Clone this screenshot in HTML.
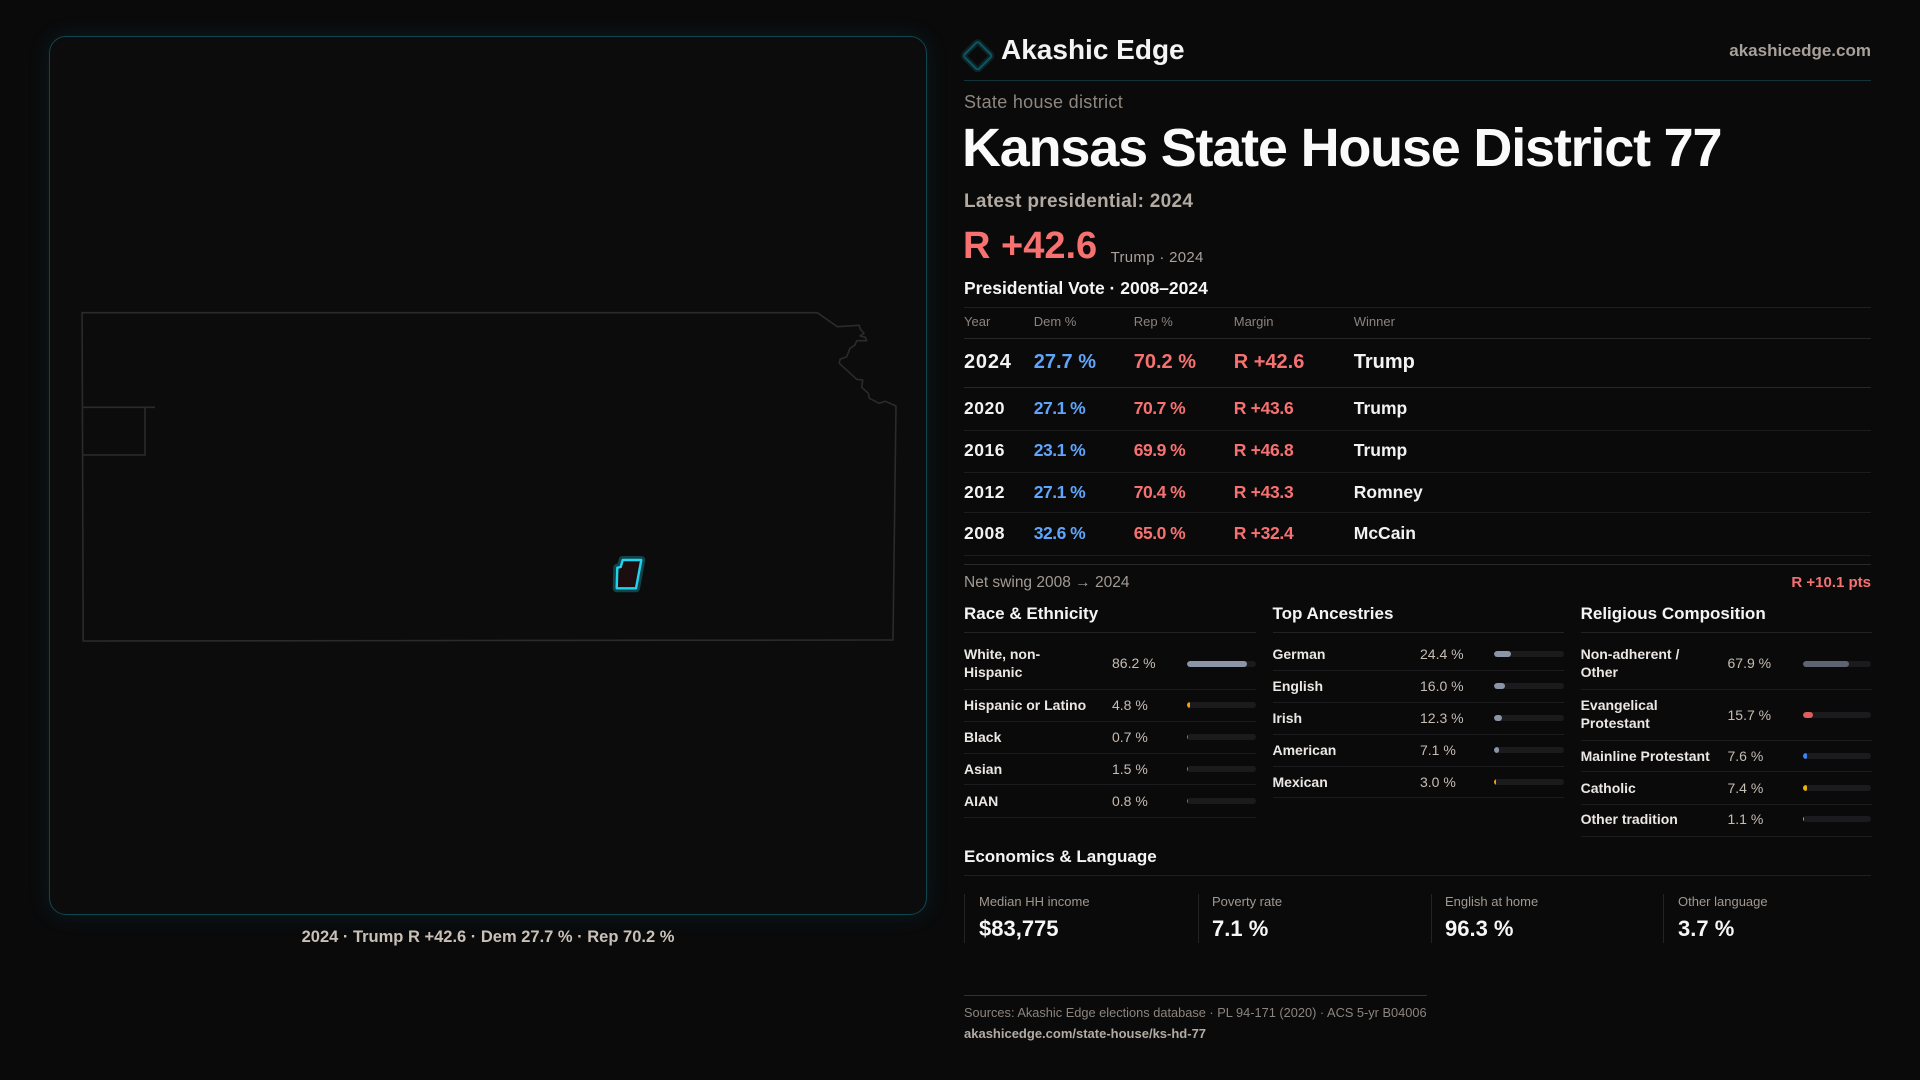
<!DOCTYPE html>
<html>
<head>
<meta charset="utf-8">
<style>
*{margin:0;padding:0;box-sizing:border-box}
html,body{width:1920px;height:1080px;background:#0a0a0b;overflow:hidden}
body{position:relative;font-family:"Liberation Sans",sans-serif;color:#f0f0f0}
.t{position:absolute;white-space:nowrap;line-height:20px}
.b{font-weight:bold}
.ln{position:absolute;height:1px}
.mapbox{position:absolute;left:49px;top:36px;width:878px;height:879px;border:1px solid #0f4651;border-radius:17px;background:#0c0c0d;box-shadow:0 0 22px rgba(16,110,128,0.18)}
.hd{font-size:13px;color:#8c837c;line-height:16px;top:314px}
.r0{font-size:20px;font-weight:bold;line-height:24px;top:350px}
.rr{font-size:17.5px;font-weight:bold;line-height:20px}
.blue{color:#60a5fa}.red{color:#f87171}.wh{color:#f2f2f2}
.lab{font-size:14px;font-weight:bold;color:#ebe7e3;line-height:20px}
.lab2{font-size:14px;font-weight:bold;color:#ebe7e3;line-height:18.7px;white-space:nowrap;position:absolute}
.val{font-size:14px;color:#c7bdb3;line-height:20px}
.trk{position:absolute;height:6px;border-radius:3px;background:#1b1b1d;overflow:hidden}
.fil{position:absolute;left:0;top:0;height:6px;border-radius:3px}
.sec{font-size:17px;font-weight:bold;color:#f4f4f4;top:604px}
.sl{font-size:13px;color:#a1988f;line-height:16px;top:894px}
.sv{font-size:22px;font-weight:bold;color:#f6f6f6;line-height:26px;top:916px}
.sb{position:absolute;top:894px;width:1px;height:49px;background:#232325}
</style>
</head>
<body>

<div class="mapbox"></div>
<svg style="position:absolute;left:0;top:0" width="1920" height="1080" viewBox="0 0 1920 1080">
  <polygon points="82.1,312.7 817.3,312.7 837.3,326.7 859.3,325.3 860,328.7 864,333.3 860,336 865.3,337.3 866.7,340.7 856.7,340.7 855,345 850,348.3 846.7,356.7 840,359.3 839.3,363.3 856.7,379.3 862.7,380 861.7,387.3 868.3,393.3 869.3,398.3 879.3,403.3 885.3,401.3 896,406 893,640 83.2,641" fill="none" stroke="#2b2b2d" stroke-width="1.6" stroke-linejoin="round"/>
  <polyline points="82.5,407.3 155,407.3" fill="none" stroke="#2b2b2d" stroke-width="1.6"/>
  <polyline points="145,407.3 145,455 82.5,455" fill="none" stroke="#2b2b2d" stroke-width="1.6"/>
  <polygon points="622.7,560 641.3,560 636,588.3 616.7,588.3 617.3,567.7 620.7,567" fill="none" stroke="rgba(34,211,238,0.28)" stroke-width="8" stroke-linejoin="round"/>
  <polygon points="622.7,560 641.3,560 636,588.3 616.7,588.3 617.3,567.7 620.7,567" fill="#1c0e10" stroke="#22d3ee" stroke-width="2.4" stroke-linejoin="round"/>
  <rect x="967.5" y="45.5" width="20.5" height="20.5" rx="2.5" transform="rotate(45 977.7 55.7)" fill="none" stroke="rgba(20,110,125,0.25)" stroke-width="6"/>
  <rect x="967.5" y="45.5" width="20.5" height="20.5" rx="2.5" transform="rotate(45 977.7 55.7)" fill="none" stroke="#0f5560" stroke-width="2"/>
</svg>

<div class="t b" style="left:49px;width:878px;text-align:center;top:927px;font-size:16.5px;color:#c9c0b7">2024 · Trump R +42.6 · Dem 27.7 % · Rep 70.2 %</div>

<!-- header -->
<div class="t b" style="left:1001px;top:35px;font-size:28px;line-height:30px;color:#f4f4f5">Akashic Edge</div>
<div class="t b" style="right:49px;top:40.5px;font-size:17px;color:#a8a099">akashicedge.com</div>
<div class="ln" style="left:964px;top:80px;width:907px;background:#12333a"></div>

<div class="t" style="left:964px;top:91.5px;font-size:18px;color:#8f8780;letter-spacing:0.3px">State house district</div>
<div class="t b" style="left:962px;top:118px;font-size:54px;line-height:60px;letter-spacing:-1.2px;color:#fafafa">Kansas State House District 77</div>
<div class="t b" style="left:964px;top:190.7px;font-size:19px;line-height:22px;color:#b3aaa2;letter-spacing:0.3px">Latest presidential: 2024</div>
<div class="t b red" style="left:963px;top:225.5px;font-size:38px;line-height:40px">R +42.6</div>
<div class="t" style="left:1110.6px;top:248.8px;font-size:15px;line-height:18px;color:#aaa19a;letter-spacing:0.3px">Trump · 2024</div>
<div class="t b" style="left:964px;top:278px;font-size:17.5px;color:#f6f6f6">Presidential Vote · 2008–2024</div>

<!-- table -->
<div class="ln" style="left:964px;top:307px;width:907px;background:#1f1f21"></div>
<div class="t hd" style="left:964px">Year</div>
<div class="t hd" style="left:1033.75px">Dem %</div>
<div class="t hd" style="left:1133.75px">Rep %</div>
<div class="t hd" style="left:1233.75px">Margin</div>
<div class="t hd" style="left:1353.75px">Winner</div>
<div class="ln" style="left:964px;top:338px;width:907px;background:#262628"></div>

<div class="t r0 wh" style="left:964px;letter-spacing:0.8px">2024</div>
<div class="t r0 blue" style="left:1033.75px">27.7 %</div>
<div class="t r0 red" style="left:1133.75px">70.2 %</div>
<div class="t r0 red" style="left:1233.75px">R +42.6</div>
<div class="t r0 wh" style="left:1353.75px">Trump</div>
<div class="ln" style="left:964px;top:387px;width:907px;background:#28282a"></div>

<div class="t rr wh" style="left:964px;top:398.3px;letter-spacing:0.5px">2020</div>
<div class="t rr blue" style="left:1033.75px;top:398.3px;letter-spacing:-0.5px">27.1 %</div>
<div class="t rr red" style="left:1133.75px;top:398.3px;letter-spacing:-0.5px">70.7 %</div>
<div class="t rr red" style="left:1233.75px;top:398.3px;letter-spacing:-0.3px">R +43.6</div>
<div class="t rr wh" style="left:1353.75px;top:398.3px">Trump</div>
<div class="ln" style="left:964px;top:430px;width:907px;background:#1c1c1e"></div>

<div class="t rr wh" style="left:964px;top:440px;letter-spacing:0.5px">2016</div>
<div class="t rr blue" style="left:1033.75px;top:440px;letter-spacing:-0.5px">23.1 %</div>
<div class="t rr red" style="left:1133.75px;top:440px;letter-spacing:-0.5px">69.9 %</div>
<div class="t rr red" style="left:1233.75px;top:440px;letter-spacing:-0.3px">R +46.8</div>
<div class="t rr wh" style="left:1353.75px;top:440px">Trump</div>
<div class="ln" style="left:964px;top:471.7px;width:907px;background:#1c1c1e"></div>

<div class="t rr wh" style="left:964px;top:481.7px;letter-spacing:0.5px">2012</div>
<div class="t rr blue" style="left:1033.75px;top:481.7px;letter-spacing:-0.5px">27.1 %</div>
<div class="t rr red" style="left:1133.75px;top:481.7px;letter-spacing:-0.5px">70.4 %</div>
<div class="t rr red" style="left:1233.75px;top:481.7px;letter-spacing:-0.3px">R +43.3</div>
<div class="t rr wh" style="left:1353.75px;top:481.7px">Romney</div>
<div class="ln" style="left:964px;top:512.3px;width:907px;background:#1c1c1e"></div>

<div class="t rr wh" style="left:964px;top:523.3px;letter-spacing:0.5px">2008</div>
<div class="t rr blue" style="left:1033.75px;top:523.3px;letter-spacing:-0.5px">32.6 %</div>
<div class="t rr red" style="left:1133.75px;top:523.3px;letter-spacing:-0.5px">65.0 %</div>
<div class="t rr red" style="left:1233.75px;top:523.3px;letter-spacing:-0.3px">R +32.4</div>
<div class="t rr wh" style="left:1353.75px;top:523.3px">McCain</div>
<div class="ln" style="left:964px;top:555.3px;width:907px;background:#1c1c1e"></div>
<div class="ln" style="left:964px;top:564.3px;width:907px;background:#29292b"></div>

<div class="t" style="left:964px;top:572.7px;font-size:15.5px;color:#a39a93">Net swing 2008 → 2024</div>
<div class="t b red" style="right:49px;top:572.7px;font-size:15px">R +10.1 pts</div>

<!-- sections -->
<div class="t sec" style="left:964px">Race &amp; Ethnicity</div>
<div class="t sec" style="left:1272.5px">Top Ancestries</div>
<div class="t sec" style="left:1580.6px">Religious Composition</div>
<div class="ln" style="left:964px;top:632px;width:292px;background:#222224"></div>
<div class="ln" style="left:1272.5px;top:632px;width:291px;background:#222224"></div>
<div class="ln" style="left:1580.6px;top:632px;width:291px;background:#222224"></div>

<!-- Race -->
<div class="lab2" style="left:964px;top:644.6px">White, non-<br>Hispanic</div>
<div class="t val" style="left:1112px;top:652.7px">86.2 %</div>
<div class="trk" style="left:1187px;top:660.7px;width:69px"><div class="fil" style="width:59.5px;background:#8b95a7"></div></div>
<div class="ln" style="left:964px;top:689.3px;width:292px;background:#1c1c1e"></div>

<div class="t lab" style="left:964px;top:695px">Hispanic or Latino</div>
<div class="t val" style="left:1112px;top:695px">4.8 %</div>
<div class="trk" style="left:1187px;top:702px;width:69px"><div class="fil" style="width:3.3px;background:#f59e0b"></div></div>
<div class="ln" style="left:964px;top:721px;width:292px;background:#1c1c1e"></div>

<div class="t lab" style="left:964px;top:726.7px">Black</div>
<div class="t val" style="left:1112px;top:726.7px">0.7 %</div>
<div class="trk" style="left:1187px;top:733.7px;width:69px"><div class="fil" style="width:0.5px;background:#8b5cf6"></div></div>
<div class="ln" style="left:964px;top:753.3px;width:292px;background:#1c1c1e"></div>

<div class="t lab" style="left:964px;top:759px">Asian</div>
<div class="t val" style="left:1112px;top:759px">1.5 %</div>
<div class="trk" style="left:1187px;top:766px;width:69px"><div class="fil" style="width:1.2px;background:#10b981"></div></div>
<div class="ln" style="left:964px;top:784.3px;width:292px;background:#1c1c1e"></div>

<div class="t lab" style="left:964px;top:790.7px">AIAN</div>
<div class="t val" style="left:1112px;top:790.7px">0.8 %</div>
<div class="trk" style="left:1187px;top:797.7px;width:69px"><div class="fil" style="width:1px;background:#c2620c"></div></div>
<div class="ln" style="left:964px;top:817.3px;width:292px;background:#1c1c1e"></div>

<!-- Ancestries -->
<div class="t lab" style="left:1272.5px;top:644px">German</div>
<div class="t val" style="left:1420px;top:644px">24.4 %</div>
<div class="trk" style="left:1493.75px;top:651px;width:70px"><div class="fil" style="width:17px;background:#8b95a7"></div></div>
<div class="ln" style="left:1272.5px;top:670.3px;width:291px;background:#1c1c1e"></div>

<div class="t lab" style="left:1272.5px;top:676px">English</div>
<div class="t val" style="left:1420px;top:676px">16.0 %</div>
<div class="trk" style="left:1493.75px;top:683px;width:70px"><div class="fil" style="width:11.2px;background:#8b95a7"></div></div>
<div class="ln" style="left:1272.5px;top:702.3px;width:291px;background:#1c1c1e"></div>

<div class="t lab" style="left:1272.5px;top:707.7px">Irish</div>
<div class="t val" style="left:1420px;top:707.7px">12.3 %</div>
<div class="trk" style="left:1493.75px;top:714.7px;width:70px"><div class="fil" style="width:8.6px;background:#8b95a7"></div></div>
<div class="ln" style="left:1272.5px;top:734.3px;width:291px;background:#1c1c1e"></div>

<div class="t lab" style="left:1272.5px;top:740px">American</div>
<div class="t val" style="left:1420px;top:740px">7.1 %</div>
<div class="trk" style="left:1493.75px;top:747px;width:70px"><div class="fil" style="width:5px;background:#8b95a7"></div></div>
<div class="ln" style="left:1272.5px;top:766px;width:291px;background:#1c1c1e"></div>

<div class="t lab" style="left:1272.5px;top:771.7px">Mexican</div>
<div class="t val" style="left:1420px;top:771.7px">3.0 %</div>
<div class="trk" style="left:1493.75px;top:778.7px;width:70px"><div class="fil" style="width:2.1px;background:#f59e0b"></div></div>
<div class="ln" style="left:1272.5px;top:797.3px;width:291px;background:#1c1c1e"></div>

<!-- Religion -->
<div class="lab2" style="left:1580.6px;top:644.6px">Non-adherent /<br>Other</div>
<div class="t val" style="left:1727.5px;top:652.7px">67.9 %</div>
<div class="trk" style="left:1802.5px;top:660.7px;width:68.5px"><div class="fil" style="width:46.5px;background:#5f6472"></div></div>
<div class="ln" style="left:1580.6px;top:689.3px;width:291px;background:#1c1c1e"></div>

<div class="lab2" style="left:1580.6px;top:695.6px">Evangelical<br>Protestant</div>
<div class="t val" style="left:1727.5px;top:705px">15.7 %</div>
<div class="trk" style="left:1802.5px;top:712px;width:68.5px"><div class="fil" style="width:10.8px;background:#e05d5d"></div></div>
<div class="ln" style="left:1580.6px;top:740px;width:291px;background:#1c1c1e"></div>

<div class="t lab" style="left:1580.6px;top:745.7px">Mainline Protestant</div>
<div class="t val" style="left:1727.5px;top:745.7px">7.6 %</div>
<div class="trk" style="left:1802.5px;top:752.7px;width:68.5px"><div class="fil" style="width:4.5px;background:#3b82f6"></div></div>
<div class="ln" style="left:1580.6px;top:771px;width:291px;background:#1c1c1e"></div>

<div class="t lab" style="left:1580.6px;top:777.7px">Catholic</div>
<div class="t val" style="left:1727.5px;top:777.7px">7.4 %</div>
<div class="trk" style="left:1802.5px;top:784.7px;width:68.5px"><div class="fil" style="width:4.5px;background:#eab308"></div></div>
<div class="ln" style="left:1580.6px;top:804px;width:291px;background:#1c1c1e"></div>

<div class="t lab" style="left:1580.6px;top:809px">Other tradition</div>
<div class="t val" style="left:1727.5px;top:809px">1.1 %</div>
<div class="trk" style="left:1802.5px;top:816px;width:68.5px"><div class="fil" style="width:1px;background:#9ca3af"></div></div>
<div class="ln" style="left:1580.6px;top:835.7px;width:291px;background:#1c1c1e"></div>

<!-- Economics -->
<div class="t b" style="left:964px;top:846.7px;font-size:17px;color:#f4f4f4">Economics &amp; Language</div>
<div class="ln" style="left:964px;top:875px;width:907px;background:#1f1f21"></div>

<div class="sb" style="left:964px"></div>
<div class="t sl" style="left:979px">Median HH income</div>
<div class="t sv" style="left:979px">$83,775</div>

<div class="sb" style="left:1197.5px"></div>
<div class="t sl" style="left:1212px">Poverty rate</div>
<div class="t sv" style="left:1212px">7.1 %</div>

<div class="sb" style="left:1430.6px"></div>
<div class="t sl" style="left:1445px">English at home</div>
<div class="t sv" style="left:1445px">96.3 %</div>

<div class="sb" style="left:1663px"></div>
<div class="t sl" style="left:1678px">Other language</div>
<div class="t sv" style="left:1678px">3.7 %</div>

<!-- footer -->
<div class="ln" style="left:964px;top:995px;width:463px;background:#133c45"></div>
<div class="t" style="left:964px;top:1005.3px;font-size:12.8px;line-height:16px;color:#8c847d">Sources: Akashic Edge elections database · PL 94-171 (2020) · ACS 5-yr B04006</div>
<div class="t b" style="left:964px;top:1026px;font-size:13px;line-height:16px;color:#b3aba3">akashicedge.com/state-house/ks-hd-77</div>

</body>
</html>
